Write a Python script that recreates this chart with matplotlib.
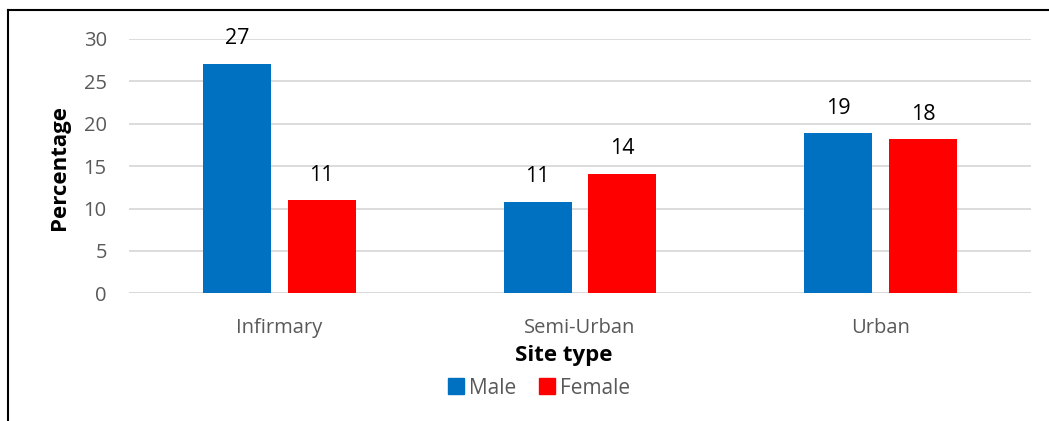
import matplotlib
matplotlib.use("Agg")
import matplotlib.pyplot as plt
from matplotlib.lines import Line2D
import numpy as np

categories = ["Infirmary", "Semi-Urban", "Urban"]
male = [27.1, 10.8, 18.9]
female = [11.0, 14.1, 18.2]
male_labels = ["27", "11", "19"]
female_labels = ["11", "14", "18"]
yticks = [0, 5, 10, 15, 20, 25, 30]

plt.rcParams['font.family'] = ['Open Sans', 'DejaVu Sans']

W, H = 1049, 421
fig = plt.figure(figsize=(W/100, H/100), dpi=100)
ax = fig.add_axes([129/W, 1-293.3/H, (1031-129)/W, (293.3-39)/H])

x = np.arange(len(categories))
bw = 0.226
off = 0.141
blue = "#0070C0"
red = "#FF0000"
b1 = ax.bar(x - off, male, bw, color=blue, zorder=3)
b2 = ax.bar(x + off, female, bw, color=red, zorder=3)

for rect, lab in zip(b1, male_labels):
    ax.text(rect.get_x() + rect.get_width()/2, rect.get_height() + 1.7, lab,
            ha='center', va='bottom', fontsize=15.5, color='black', clip_on=False)
for rect, lab in zip(b2, female_labels):
    ax.text(rect.get_x() + rect.get_width()/2, rect.get_height() + 1.7, lab,
            ha='center', va='bottom', fontsize=15.5, color='black', clip_on=False)

ax.set_xlim(-0.5, 2.5)
ax.set_ylim(0, 30)
ax.set_yticks(yticks)
ax.set_yticklabels([str(v) for v in yticks])
ax.set_xticks(x)
ax.set_xticklabels(categories)
ax.tick_params(axis='y', length=0, pad=16, labelsize=14.5, labelcolor='#595959')
ax.tick_params(axis='x', length=0, pad=18, labelsize=14.5, labelcolor='#595959')
ax.grid(axis='y', color='#d9d9d9', linewidth=1.3, zorder=0)
for s in ax.spines.values():
    s.set_visible(False)
ax.axhline(0, color='#d9d9d9', linewidth=1.3, zorder=1)

fig.text(60/W, 1-167/H, "Percentage", rotation=90, ha='center', va='center',
         fontsize=16, fontweight='bold')
fig.text(564/W, 1-355/H, "Site type", ha='center', va='center',
         fontsize=16, fontweight='bold')

handles = [Line2D([], [], marker='s', linestyle='', markersize=11, color=blue),
           Line2D([], [], marker='s', linestyle='', markersize=11, color=red)]
fig.legend(handles, ["Male", "Female"], loc='center', bbox_to_anchor=(538/W, 1-388/H),
           ncol=2, frameon=False, fontsize=15, handletextpad=0.1, columnspacing=1.0,
           handlelength=1.0, labelcolor='#595959')

# frame border lines (top and left)
fig.add_artist(Line2D([8/W, 1], [1-10/H, 1-10/H], color='black', linewidth=1.5))
fig.add_artist(Line2D([8/W, 8/W], [0, 1-10/H], color='black', linewidth=1.5))

fig.savefig("out.png", dpi=100)
